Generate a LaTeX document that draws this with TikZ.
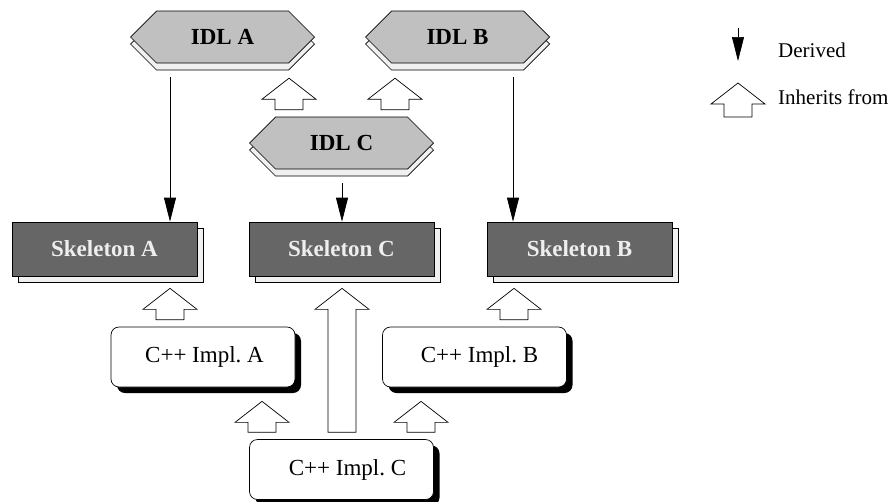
\documentclass[tikz,border=0pt]{standalone}
\usepackage{fontspec}
\setmainfont{Liberation Serif}
\usetikzlibrary{shadows,calc,arrows.meta}

\definecolor{idlfill}{HTML}{C0C0C0}
\definecolor{paleshadow}{HTML}{F0F0F0}
\definecolor{skelfill}{HTML}{666666}
\definecolor{skeltext}{HTML}{EEEEEE}

\tikzset{
  boxfont/.style={font=\fontsize{23}{27}\selectfont},
  hexbody/.style={draw=black, fill=idlfill, line width=0.7pt, line join=miter},
  hexshadow/.style={draw=black, fill=paleshadow, line width=0.7pt, line join=miter},
  idltext/.style={rectangle, minimum width=132pt, minimum height=52pt, inner sep=0pt,
    font=\fontsize{23}{27}\selectfont\bfseries},
  skeleton/.style={rectangle, minimum width=185pt, minimum height=54pt, inner sep=0pt,
    draw, fill=skelfill, text=skeltext, line width=0.7pt,
    font=\fontsize{23}{27}\selectfont\bfseries,
    copy shadow={shadow xshift=6pt, shadow yshift=-6pt, fill=paleshadow, draw=black, line width=0.7pt}},
  impl/.style={rectangle, rounded corners=8pt, minimum width=184pt, minimum height=60pt, inner sep=0pt,
    draw, fill=white, line width=0.7pt, boxfont,
    drop shadow={shadow xshift=6pt, shadow yshift=-6pt, fill=black, opacity=1}},
  textshift/.style={execute at begin node={\hspace*{#1}}},
  derived/.style={line width=0.7pt, -{Triangle[width=12pt,length=24pt]}},
  inheritarrow/.style={draw, fill=white, line width=0.7pt, line join=miter},
  legendtext/.style={font=\fontsize{21}{25}\selectfont, anchor=base west, inner sep=0pt},
}

% hexagon outline around centre #1, shifted down by #2
\newcommand\hexpath[2]{%
  ($(#1)+(-92,#2)$) -- ($(#1)+(-66,#2-26)$) -- ($(#1)+(66,#2-26)$)
  -- ($(#1)+(92,#2)$) -- ($(#1)+(66,#2+26)$) -- ($(#1)+(-66,#2+26)$) -- cycle}

% IDL interface: shadow, hexagon body, then the named text node
\newcommand\idlnode[3]{%
  \coordinate (#1-c) at (#2);
  \path[hexshadow] \hexpath{#1-c}{7};
  \path[hexbody] \hexpath{#1-c}{0};
  \node[idltext] (#1) at (#1-c) {#3};}

% hollow block arrow from a tail point up to a tip point
\newcommand\blockarrow[2]{%
  \draw[inheritarrow] ($(#1)+(-14,0)$) -- ($(#2)+(-14,21)$) -- ($(#2)+(-27,21)$)
    -- (#2) -- ($(#2)+(27,21)$) -- ($(#2)+(14,21)$) -- ($(#1)+(14,0)$) -- cycle;}

% inheritance arrow at horizontal position #1, from node #2 up to node #3, tip gap #4
\newcommand\inherit[4]{%
  \path ($(#1,0 |- #2.north)+(0,-7)$) coordinate (arrtail)
        ($(#1,0 |- #3.south)+(0,#4)$) coordinate (arrtip);
  \blockarrow{arrtail}{arrtip}}

\begin{document}
\begin{tikzpicture}[x=1pt,y=-1pt]
  \useasboundingbox (0,0) rectangle (890,501);
  \clip (0,0) rectangle (890,501);

  % IDL interfaces
  \idlnode{idlA}{222.5,37}{IDL A}
  \idlnode{idlB}{457.5,37}{IDL B}
  \idlnode{idlC}{341.5,143}{IDL C}

  % skeletons
  \node[skeleton] (skelA) at (104.5,249) {Skeleton A};
  \node[skeleton] (skelC) at (341.5,249) {Skeleton C};
  \node[skeleton] (skelB) at (579.5,249) {Skeleton B};

  % implementations
  \node[impl, textshift=3pt] (implA) at (203,357) {C++ Impl.\ A};
  \node[impl, textshift=10pt] (implB) at (474.5,357) {C++ Impl.\ B};
  \node[impl, textshift=12pt] (implC) at (341.5,469.5) {C++ Impl.\ C};

  % derived skeletons
  \draw[derived] ($(170,0 |- idlA.south)+(0,14)$) -- (170,0 |- skelA.north);
  \draw[derived] ($(342,0 |- idlC.south)+(0,14)$) -- (342,0 |- skelC.north);
  \draw[derived] ($(513,0 |- idlB.south)+(0,14)$) -- (513,0 |- skelB.north);

  % inheritance
  \inherit{289}{idlC}{idlA}{15}
  \inherit{395}{idlC}{idlB}{15}
  \inherit{170}{implA}{skelA}{12}
  \inherit{514}{implB}{skelB}{12}
  \inherit{262}{implC}{implA}{14}
  \inherit{421}{implC}{implB}{14}
  \inherit{342}{implC}{skelC}{12}

  % legend
  \coordinate (dtop) at (738,28);
  \coordinate (dtip) at (738,61);
  \draw[derived] (dtop) -- (dtip);
  \node[legendtext] (dlabel) at (778,57) {Derived};
  \coordinate (itail) at (738,117);
  \coordinate (itip) at (738,83);
  \blockarrow{itail}{itip}
  \node[legendtext] (ilabel) at (778,104) {Inherits from};
\end{tikzpicture}
\end{document}
